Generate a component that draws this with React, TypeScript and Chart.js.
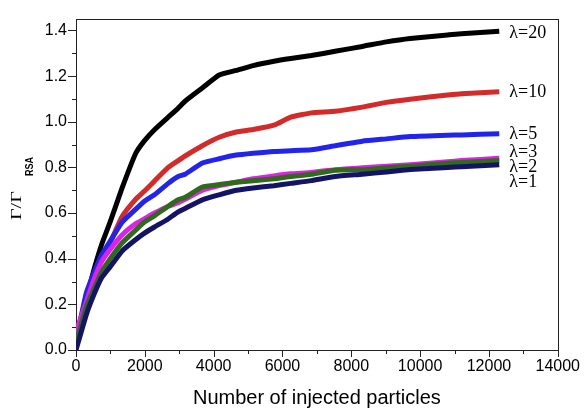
import React, { useEffect, useRef } from 'react';
import { Chart, registerables } from 'chart.js';

Chart.register(...registerables);

// ---- data ----
const xValues = [0, 300, 500, 740, 990, 1340, 1730, 1980, 2280, 2680, 2970, 3170, 3670, 4160, 4660, 5150, 5750, 6240, 6840, 7530, 8320, 9020, 9710, 10800, 11200, 12300];
const lambda20 = [0.02, 0.22, 0.34, 0.46, 0.56, 0.71, 0.86, 0.915, 0.965, 1.02, 1.06, 1.09, 1.148, 1.205, 1.225, 1.246, 1.265, 1.277, 1.29, 1.309, 1.33, 1.35, 1.365, 1.38, 1.386, 1.397];
const lambda10 = [0.03, 0.24, 0.32, 0.41, 0.47, 0.585, 0.66, 0.695, 0.74, 0.8, 0.83, 0.85, 0.895, 0.932, 0.955, 0.966, 0.985, 1.02, 1.039, 1.046, 1.064, 1.085, 1.099, 1.117, 1.123, 1.132];
const lambda5 = [0.04, 0.25, 0.33, 0.415, 0.476, 0.56, 0.616, 0.651, 0.68, 0.73, 0.76, 0.77, 0.819, 0.838, 0.854, 0.862, 0.87, 0.873, 0.877, 0.895, 0.915, 0.925, 0.935, 0.941, 0.942, 0.948];
const lambda3 = [0.08, 0.21, 0.3, 0.385, 0.44, 0.504, 0.553, 0.574, 0.6, 0.63, 0.645, 0.66, 0.7, 0.72, 0.735, 0.75, 0.763, 0.772, 0.778, 0.79, 0.798, 0.805, 0.812, 0.825, 0.83, 0.84];
const lambda2 = [0.03, 0.19, 0.26, 0.34, 0.399, 0.469, 0.525, 0.56, 0.588, 0.63, 0.658, 0.668, 0.714, 0.725, 0.735, 0.742, 0.75, 0.76, 0.77, 0.788, 0.79, 0.798, 0.805, 0.818, 0.822, 0.83];
const lambda1 = [0.0, 0.155, 0.235, 0.315, 0.364, 0.434, 0.483, 0.511, 0.539, 0.574, 0.605, 0.62, 0.658, 0.68, 0.7, 0.71, 0.72, 0.73, 0.742, 0.76, 0.77, 0.78, 0.791, 0.8, 0.803, 0.812];

const seriesLabels = ['λ=1', 'λ=2', 'λ=3', 'λ=5', 'λ=10', 'λ=20'];
const seriesValues = [lambda1, lambda2, lambda3, lambda5, lambda10, lambda20];
const seriesColors = ['#141466', '#2f6b1a', '#e020e8', '#2323ee', '#d42a2a', '#000000'];
// pixel baseline offsets of the end labels relative to each line end
const labelOffsets = [22, 11, -1, 5, 5, 7];

const xTicks = [0, 2000, 4000, 6000, 8000, 10000, 12000, 14000];
const yTicks = [0, 0.2, 0.4, 0.6, 0.8, 1.0, 1.2, 1.4];
const xTitle = 'Number of injected particles';

const SANS = '"Liberation Sans", Arial, sans-serif';
const SERIF = '"Liberation Serif", "Times New Roman", serif';

const decorPlugin = {
  id: 'decor',
  beforeDatasetsDraw(chart: any) {
    const { ctx, chartArea } = chart;
    const xs = chart.scales.x;
    const ys = chart.scales.y;
    const L = chartArea.left, R = chartArea.right, T = chartArea.top, B = chartArea.bottom;
    ctx.save();
    ctx.strokeStyle = '#222';
    ctx.lineWidth = 1;
    ctx.strokeRect(Math.round(L) + 0.5, Math.round(T) + 0.5, Math.round(R - L), Math.round(B - T));
    ctx.beginPath();
    for (let v = 0; v <= 14000; v += 1000) {
      const px = Math.round(xs.getPixelForValue(v)) + 0.5;
      const len = v % 2000 === 0 ? 7 : 4;
      ctx.moveTo(px, B);
      ctx.lineTo(px, B + len);
    }
    for (let i = 0; i <= 14; i++) {
      const py = Math.round(ys.getPixelForValue(i / 10)) + 0.5;
      const len = i % 2 === 0 ? 8 : 4;
      ctx.moveTo(L, py);
      ctx.lineTo(L - len, py);
    }
    ctx.stroke();
    ctx.restore();
  },
  afterDraw(chart: any) {
    const { ctx, chartArea } = chart;
    const xs = chart.scales.x;
    const ys = chart.scales.y;
    ctx.save();
    // end labels
    ctx.fillStyle = '#000';
    ctx.font = `18px ${SERIF}`;
    ctx.textAlign = 'left';
    ctx.textBaseline = 'alphabetic';
    seriesValues.forEach((vals, i) => {
      const lastX = xValues[xValues.length - 1];
      const lastY = vals[vals.length - 1];
      const px = xs.getPixelForValue(lastX) + 10;
      const py = ys.getPixelForValue(lastY) + labelOffsets[i];
      ctx.fillText(seriesLabels[i], px, py);
    });
    // x title
    ctx.font = `20px ${SANS}`;
    ctx.textAlign = 'center';
    ctx.fillText(xTitle, (chartArea.left + chartArea.right) / 2, 404);
    ctx.restore();

    // y title (rotated -90deg, reading bottom to top)
    ctx.save();
    ctx.setTransform(0, -1.43, 1, 0, 20.7, 220);
    ctx.fillStyle = '#000';
    ctx.textAlign = 'left';
    ctx.textBaseline = 'alphabetic';
    ctx.font = `14px ${SERIF}`;
    ctx.fillText('Γ/Γ', 0, 0);
    ctx.setTransform(0, -0.9, 1, 0, 33, 176);
    ctx.font = `bold 10px ${SANS}`;
    ctx.fillText('RSA', 0, 0);
    ctx.restore();
  },
};

export default function App() {
  const ref = useRef<HTMLCanvasElement | null>(null);
  useEffect(() => {
    if (!ref.current) return;
    const chart = new Chart(ref.current, {
      type: 'line',
      data: {
        datasets: seriesValues.map((vals, i) => ({
          label: seriesLabels[i],
          data: vals.map((y, j) => ({ x: xValues[j], y })),
          borderColor: seriesColors[i],
          backgroundColor: seriesColors[i],
          borderWidth: 5,
          pointRadius: 0,
          tension: 0.15,
          fill: false,
        })),
      },
      options: {
        responsive: false,
        animation: false,
        layout: { padding: { left: 0, right: 26, top: 4, bottom: 0 } },
        plugins: { legend: { display: false }, tooltip: { enabled: false } },
        scales: {
          x: {
            type: 'linear',
            min: 0,
            max: 14000,
            grid: { display: false, drawTicks: false },
            border: { display: false },
            afterBuildTicks: (s: any) => { s.ticks = xTicks.map((v) => ({ value: v })); },
            afterFit: (s: any) => { s.height = 68; },
            ticks: {
              padding: 7,
              color: '#000',
              maxRotation: 0,
              autoSkip: false,
              font: { family: SANS, size: 16 },
              callback: (v: any) => String(v),
            },
          },
          y: {
            type: 'linear',
            min: 0,
            max: 1.452,
            grid: { display: false, drawTicks: false },
            border: { display: false },
            afterBuildTicks: (s: any) => { s.ticks = yTicks.map((v) => ({ value: v })); },
            afterFit: (s: any) => { s.width = 76; },
            ticks: {
              padding: 9,
              color: '#000',
              autoSkip: false,
              font: { family: SANS, size: 16 },
              callback: (v: any) => Number(v).toFixed(1),
            },
          },
        },
      },
      plugins: [decorPlugin],
    } as any);
    return () => chart.destroy();
  }, []);
  return (
    <div style={{ position: 'fixed', left: 0, top: 0, width: 587, height: 418, background: '#fff' }}>
      <canvas ref={ref} width={587} height={418} />
    </div>
  );
}
